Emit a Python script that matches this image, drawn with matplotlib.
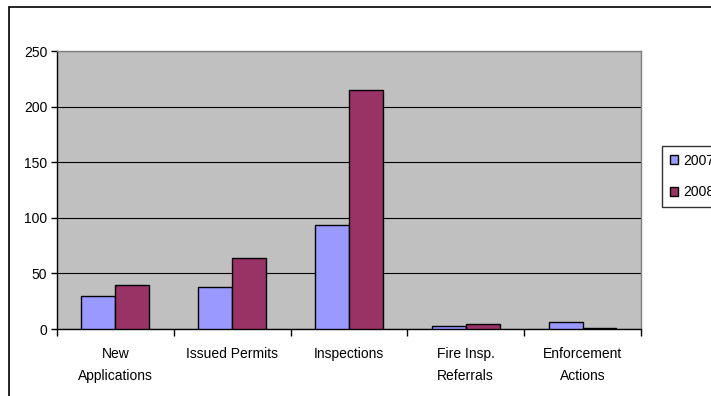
import numpy as np
import matplotlib
matplotlib.use("Agg")
import matplotlib.pyplot as plt
from matplotlib.patches import Rectangle
from matplotlib.ticker import FixedLocator

plt.rcParams['font.family'] = ['Liberation Sans', 'DejaVu Sans']

categories = ["New\nApplications", "Issued Permits", "Inspections",
              "Fire Insp.\nReferrals", "Enforcement\nActions"]
series_2007 = [30, 38, 94, 3, 6]
series_2008 = [40, 64, 215, 5, 1]
y_ticks = [0, 50, 100, 150, 200, 250]

fig = plt.figure(figsize=(7.11, 3.96), dpi=100)
ax = fig.add_axes([0.080, 0.169, 0.8215, 0.702])

# outer chart frame (runs off the right and bottom edges)
fig.patches.append(Rectangle((9 / 711, -0.1), 1.2, 1 - 7 / 396 + 0.1,
                             transform=fig.transFigure, fill=False,
                             edgecolor="black", linewidth=1.2))

x = np.arange(len(categories))
w = 0.29
ax.bar(x - w / 2, series_2007, w, color="#9999FF", edgecolor="black",
       linewidth=1, label="2007", zorder=3)
ax.bar(x + w / 2, series_2008, w, color="#993366", edgecolor="black",
       linewidth=1, label="2008", zorder=3)

ax.set_facecolor("#C0C0C0")
ax.set_xlim(-0.5, len(categories) - 0.5)
ax.set_ylim(0, 250)
ax.set_yticks(y_ticks)
ax.yaxis.grid(True, color="black", linewidth=0.8, zorder=1)
ax.set_axisbelow(True)

ax.set_xticks(x)
ax.set_xticklabels(categories, fontsize=10, linespacing=1.75)
ax.xaxis.set_minor_locator(FixedLocator(np.arange(-0.5, len(categories), 1)))
ax.tick_params(axis="x", which="major", length=0, pad=13)
ax.tick_params(axis="x", which="minor", length=5, width=1, direction="out")
ax.tick_params(axis="y", length=4, width=1, labelsize=10, pad=3)

for side in ("top", "right"):
    ax.spines[side].set_color("#808080")
    ax.spines[side].set_linewidth(1)
for side in ("left", "bottom"):
    ax.spines[side].set_color("black")
    ax.spines[side].set_linewidth(1)

# legend sits against the right edge of the chart frame
leg = ax.legend(loc="upper left", bbox_to_anchor=(662 / 711, 1 - 146 / 396),
                bbox_transform=fig.transFigure, frameon=True, fancybox=False,
                fontsize=10, handlelength=0.6, handleheight=0.6,
                handletextpad=0.35, labelspacing=1.25, borderpad=0.55,
                borderaxespad=0)
leg.get_frame().set_edgecolor("black")
leg.get_frame().set_linewidth(1)

fig.savefig("out.png", dpi=100)
